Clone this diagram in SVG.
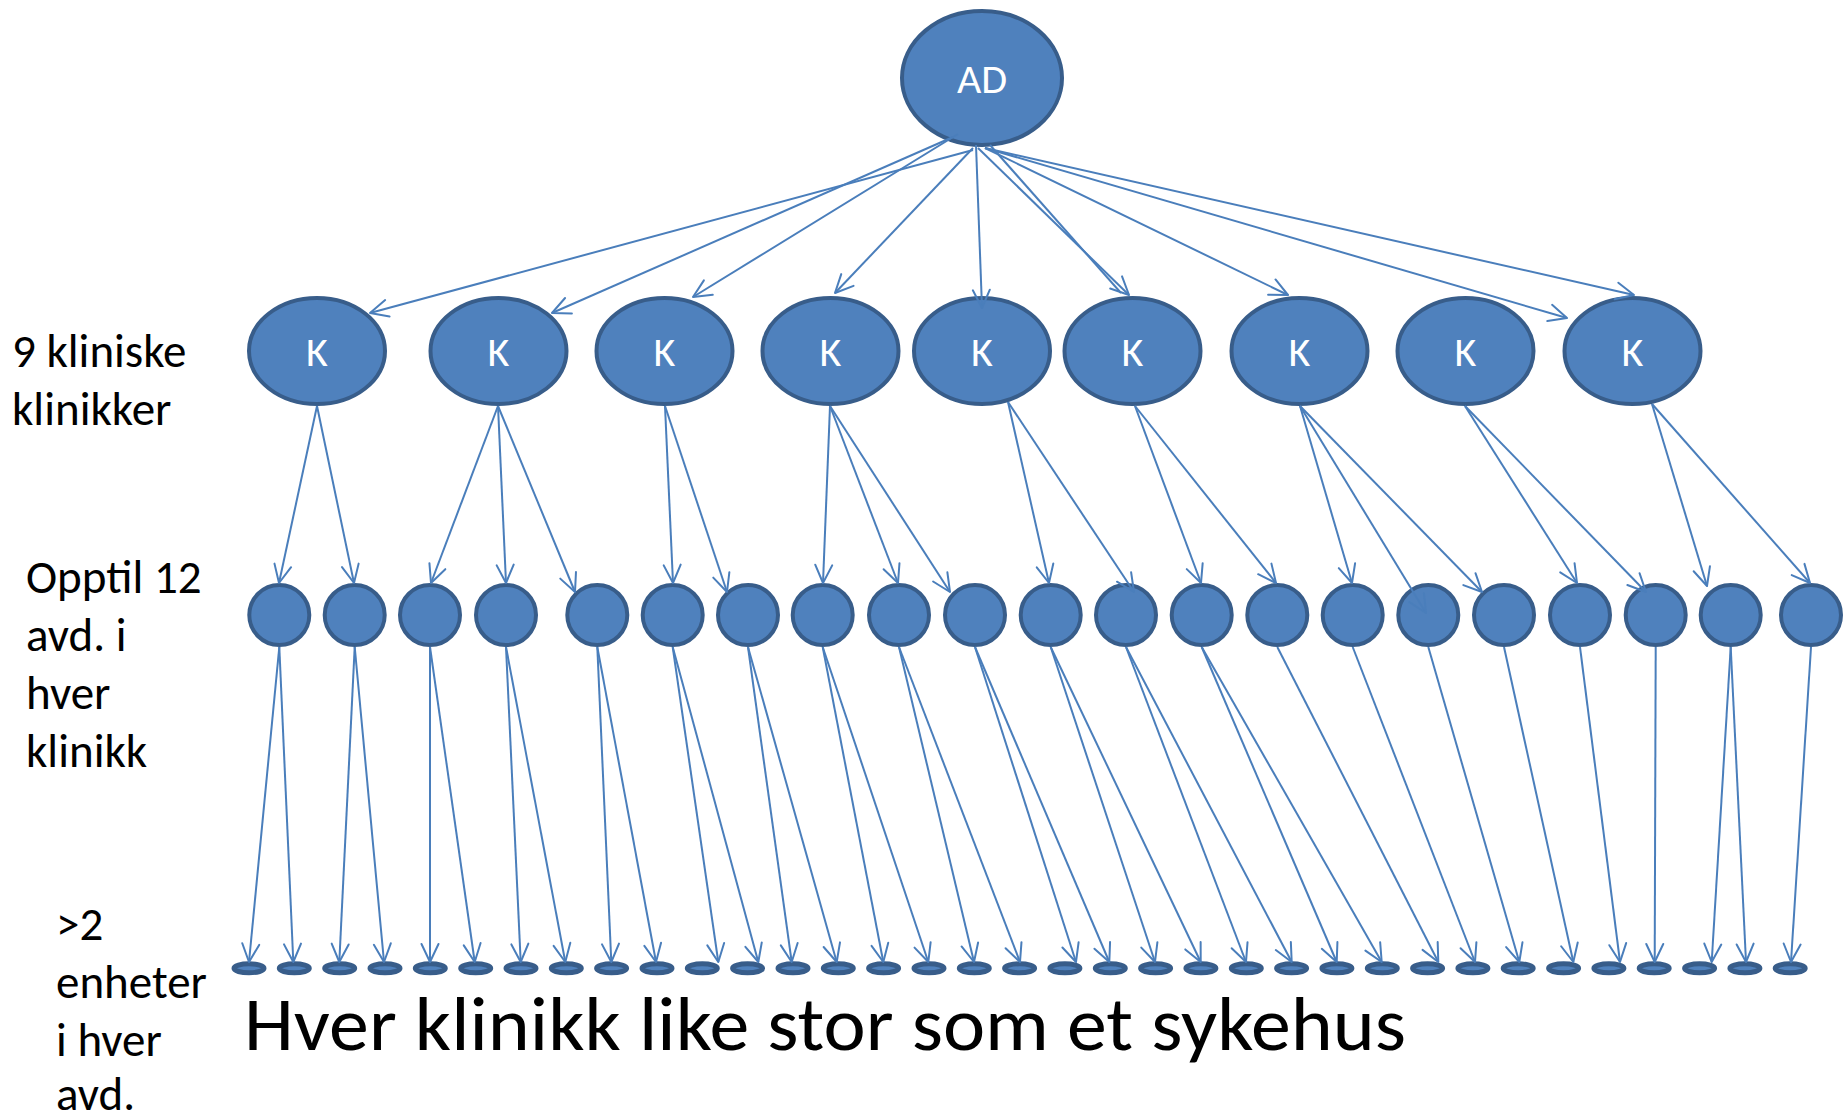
<svg xmlns="http://www.w3.org/2000/svg" width="1844" height="1120" viewBox="0 0 1844 1120">
<style>
.n{fill:#4F81BD;stroke:#385D8A;stroke-width:4}
.u{fill:#4F81BD;stroke:#385D8A;stroke-width:5}
.c line{stroke:#4A7EBB;stroke-width:2;fill:none;marker-end:url(#arr)}
.c line.nm{marker-end:none}
.t{font-family:Carlito,Lato,"Liberation Sans",sans-serif;fill:#fff;font-size:42px;text-anchor:middle}
.l{font-family:Carlito,Lato,"Liberation Sans",sans-serif;fill:#000;font-size:47px}
.big{font-family:Carlito,Lato,"Liberation Sans",sans-serif;fill:#000;font-size:76px}
</style>
<defs>
<marker id="arr" markerUnits="userSpaceOnUse" viewBox="0 0 22 22" refX="20" refY="11" markerWidth="22" markerHeight="22" orient="auto">
<path d="M2,2.5 L20,11 L2,19.5" fill="none" stroke="#4A7EBB" stroke-width="2" stroke-linejoin="round" stroke-linecap="round"/>
</marker>
</defs>
<rect width="1844" height="1120" fill="#fff"/>

<g id="ad"><ellipse class="n" cx="982" cy="78" rx="80" ry="67"/><text class="t" x="982" y="93">AD</text></g>

<g id="k1"><ellipse class="n" cx="317" cy="351" rx="68" ry="53"/><text class="t" x="317" y="366">K</text></g>
<g id="k2"><ellipse class="n" cx="498.5" cy="351" rx="68" ry="53"/><text class="t" x="498.5" y="366">K</text></g>
<g id="k3"><ellipse class="n" cx="664.5" cy="351" rx="68" ry="53"/><text class="t" x="664.5" y="366">K</text></g>
<g id="k4"><ellipse class="n" cx="830.5" cy="351" rx="68" ry="53"/><text class="t" x="830.5" y="366">K</text></g>
<g id="k5"><ellipse class="n" cx="982" cy="351" rx="68" ry="53"/><text class="t" x="982" y="366">K</text></g>
<g id="k6"><ellipse class="n" cx="1132.5" cy="351" rx="68" ry="53"/><text class="t" x="1132.5" y="366">K</text></g>
<g id="k7"><ellipse class="n" cx="1299.5" cy="351" rx="68" ry="53"/><text class="t" x="1299.5" y="366">K</text></g>
<g id="k8"><ellipse class="n" cx="1465.5" cy="351" rx="68" ry="53"/><text class="t" x="1465.5" y="366">K</text></g>
<g id="k9"><ellipse class="n" cx="1632.5" cy="351" rx="68" ry="53"/><text class="t" x="1632.5" y="366">K</text></g>

<g id="d1"><circle class="n" cx="279.3" cy="615" r="30"/></g>
<g id="d2"><circle class="n" cx="354.7" cy="615" r="30"/></g>
<g id="d3"><circle class="n" cx="430" cy="615" r="30"/></g>
<g id="d4"><circle class="n" cx="506" cy="615" r="30"/></g>
<g id="d5"><circle class="n" cx="597.3" cy="615" r="30"/></g>
<g id="d6"><circle class="n" cx="672.7" cy="615" r="30"/></g>
<g id="d7"><circle class="n" cx="748" cy="615" r="30"/></g>
<g id="d8"><circle class="n" cx="822.7" cy="615" r="30"/></g>
<g id="d9"><circle class="n" cx="899" cy="615" r="30"/></g>
<g id="d10"><circle class="n" cx="975" cy="615" r="30"/></g>
<g id="d11"><circle class="n" cx="1050.7" cy="615" r="30"/></g>
<g id="d12"><circle class="n" cx="1126" cy="615" r="30"/></g>
<g id="d13"><circle class="n" cx="1201.7" cy="615" r="30"/></g>
<g id="d14"><circle class="n" cx="1277.3" cy="615" r="30"/></g>
<g id="d15"><circle class="n" cx="1352.7" cy="615" r="30"/></g>
<g id="d16"><circle class="n" cx="1428.3" cy="615" r="30"/></g>
<g id="d17"><circle class="n" cx="1504" cy="615" r="30"/></g>
<g id="d18"><circle class="n" cx="1580" cy="615" r="30"/></g>
<g id="d19"><circle class="n" cx="1655.7" cy="615" r="30"/></g>
<g id="d20"><circle class="n" cx="1730.7" cy="615" r="30"/></g>
<g id="d21"><circle class="n" cx="1811" cy="615" r="30"/></g>

<g id="u1"><ellipse class="u" cx="249" cy="968.3" rx="15" ry="4.5"/></g>
<g id="u2"><ellipse class="u" cx="294.3" cy="968.3" rx="15" ry="4.5"/></g>
<g id="u3"><ellipse class="u" cx="339.7" cy="968.3" rx="15" ry="4.5"/></g>
<g id="u4"><ellipse class="u" cx="385" cy="968.3" rx="15" ry="4.5"/></g>
<g id="u5"><ellipse class="u" cx="430.3" cy="968.3" rx="15" ry="4.5"/></g>
<g id="u6"><ellipse class="u" cx="475.7" cy="968.3" rx="15" ry="4.5"/></g>
<g id="u7"><ellipse class="u" cx="521" cy="968.3" rx="15" ry="4.5"/></g>
<g id="u8"><ellipse class="u" cx="566.3" cy="968.3" rx="15" ry="4.5"/></g>
<g id="u9"><ellipse class="u" cx="611.6" cy="968.3" rx="15" ry="4.5"/></g>
<g id="u10"><ellipse class="u" cx="657" cy="968.3" rx="15" ry="4.5"/></g>
<g id="u11"><ellipse class="u" cx="702.3" cy="968.3" rx="15" ry="4.5"/></g>
<g id="u12"><ellipse class="u" cx="747.6" cy="968.3" rx="15" ry="4.5"/></g>
<g id="u13"><ellipse class="u" cx="793" cy="968.3" rx="15" ry="4.5"/></g>
<g id="u14"><ellipse class="u" cx="838.3" cy="968.3" rx="15" ry="4.5"/></g>
<g id="u15"><ellipse class="u" cx="883.6" cy="968.3" rx="15" ry="4.5"/></g>
<g id="u16"><ellipse class="u" cx="929" cy="968.3" rx="15" ry="4.5"/></g>
<g id="u17"><ellipse class="u" cx="974.3" cy="968.3" rx="15" ry="4.5"/></g>
<g id="u18"><ellipse class="u" cx="1019.6" cy="968.3" rx="15" ry="4.5"/></g>
<g id="u19"><ellipse class="u" cx="1064.9" cy="968.3" rx="15" ry="4.5"/></g>
<g id="u20"><ellipse class="u" cx="1110.3" cy="968.3" rx="15" ry="4.5"/></g>
<g id="u21"><ellipse class="u" cx="1155.6" cy="968.3" rx="15" ry="4.5"/></g>
<g id="u22"><ellipse class="u" cx="1200.9" cy="968.3" rx="15" ry="4.5"/></g>
<g id="u23"><ellipse class="u" cx="1246.3" cy="968.3" rx="15" ry="4.5"/></g>
<g id="u24"><ellipse class="u" cx="1291.6" cy="968.3" rx="15" ry="4.5"/></g>
<g id="u25"><ellipse class="u" cx="1336.9" cy="968.3" rx="15" ry="4.5"/></g>
<g id="u26"><ellipse class="u" cx="1382.3" cy="968.3" rx="15" ry="4.5"/></g>
<g id="u27"><ellipse class="u" cx="1427.6" cy="968.3" rx="15" ry="4.5"/></g>
<g id="u28"><ellipse class="u" cx="1472.9" cy="968.3" rx="15" ry="4.5"/></g>
<g id="u29"><ellipse class="u" cx="1518.2" cy="968.3" rx="15" ry="4.5"/></g>
<g id="u30"><ellipse class="u" cx="1563.6" cy="968.3" rx="15" ry="4.5"/></g>
<g id="u31"><ellipse class="u" cx="1608.9" cy="968.3" rx="15" ry="4.5"/></g>
<g id="u32"><ellipse class="u" cx="1654.2" cy="968.3" rx="15" ry="4.5"/></g>
<g id="u33"><ellipse class="u" cx="1699.6" cy="968.3" rx="15" ry="4.5"/></g>
<g id="u34"><ellipse class="u" cx="1744.9" cy="968.3" rx="15" ry="4.5"/></g>
<g id="u35"><ellipse class="u" cx="1790.2" cy="968.3" rx="15" ry="4.5"/></g>

<g id="connectors" class="c">
<line x1="973" y1="150" x2="370" y2="313"/>
<line x1="953" y1="137" x2="552" y2="313"/>
<line x1="958" y1="134" x2="693" y2="297"/>
<line x1="973" y1="148" x2="835" y2="293"/>
<line x1="976" y1="145" x2="982" y2="308"/>
<line x1="978" y1="148" x2="1129" y2="295"/>
<line class="nm" x1="990" y1="145" x2="1121" y2="293"/>
<line x1="985" y1="148" x2="1288" y2="295"/>
<line x1="985" y1="148" x2="1567" y2="318"/>
<line x1="985" y1="148" x2="1634" y2="295"/>

<line x1="317" y1="406" x2="279" y2="583"/>
<line x1="317" y1="406" x2="354" y2="583"/>
<line x1="498" y1="406" x2="431" y2="583"/>
<line x1="498" y1="406" x2="506" y2="583"/>
<line x1="498" y1="406" x2="575" y2="592"/>
<line x1="665" y1="406" x2="673" y2="583"/>
<line x1="665" y1="406" x2="727" y2="592"/>
<line x1="830" y1="406" x2="823" y2="583"/>
<line x1="830" y1="406" x2="898" y2="583"/>
<line x1="830" y1="406" x2="950" y2="592"/>
<line x1="1008" y1="402" x2="1049" y2="583"/>
<line x1="1008" y1="402" x2="1134" y2="592"/>
<line x1="1135" y1="406" x2="1201" y2="583"/>
<line x1="1135" y1="406" x2="1276" y2="583"/>
<line x1="1300" y1="406" x2="1352" y2="583"/>
<line x1="1300" y1="406" x2="1426" y2="613"/>
<line x1="1300" y1="406" x2="1482" y2="592"/>
<line x1="1465" y1="406" x2="1577" y2="583"/>
<line x1="1465" y1="406" x2="1646" y2="592"/>
<line x1="1652" y1="404" x2="1707" y2="586"/>
<line x1="1652" y1="404" x2="1810" y2="583"/>

<line x1="279.3" y1="647" x2="249" y2="962"/>
<line x1="279.3" y1="647" x2="293.3" y2="962"/>
<line x1="354.7" y1="647" x2="339.3" y2="962"/>
<line x1="354.7" y1="647" x2="384" y2="962"/>
<line x1="430" y1="647" x2="430" y2="962"/>
<line x1="430" y1="647" x2="474.7" y2="962"/>
<line x1="506" y1="647" x2="520.7" y2="962"/>
<line x1="506" y1="647" x2="565.3" y2="962"/>
<line x1="597.3" y1="647" x2="611.3" y2="962"/>
<line x1="597.3" y1="647" x2="656" y2="962"/>
<line x1="672.7" y1="647" x2="718.3" y2="962"/>
<line x1="672.7" y1="647" x2="758.3" y2="962"/>
<line x1="748" y1="647" x2="791.7" y2="962"/>
<line x1="748" y1="647" x2="836.7" y2="962"/>
<line x1="822.7" y1="647" x2="883.3" y2="962"/>
<line x1="822.7" y1="647" x2="928.3" y2="962"/>
<line x1="899" y1="647" x2="974" y2="962"/>
<line x1="899" y1="647" x2="1020" y2="962"/>
<line x1="975" y1="647" x2="1076" y2="962"/>
<line x1="975" y1="647" x2="1109.3" y2="962"/>
<line x1="1050.7" y1="647" x2="1155" y2="962"/>
<line x1="1050.7" y1="647" x2="1200.7" y2="962"/>
<line x1="1126" y1="647" x2="1246" y2="962"/>
<line x1="1126" y1="647" x2="1291.7" y2="962"/>
<line x1="1201.7" y1="647" x2="1336.7" y2="962"/>
<line x1="1201.7" y1="647" x2="1381.7" y2="962"/>
<line x1="1277.3" y1="647" x2="1438.3" y2="962"/>
<line x1="1352.7" y1="647" x2="1475" y2="962"/>
<line x1="1428.3" y1="647" x2="1519.3" y2="962"/>
<line x1="1504" y1="647" x2="1573.3" y2="962"/>
<line x1="1580" y1="647" x2="1620" y2="962"/>
<line x1="1655.7" y1="647" x2="1654.7" y2="962"/>
<line x1="1730.7" y1="647" x2="1711.7" y2="962"/>
<line x1="1730.7" y1="647" x2="1746" y2="962"/>
<line x1="1811" y1="647" x2="1791" y2="962"/>
</g>

<g id="labels">
<text class="l" x="12" y="367">9 kliniske</text>
<text class="l" x="12" y="425">klinikker</text>
<text class="l" x="26" y="593">Opptil 12</text>
<text class="l" x="26" y="651">avd. i</text>
<text class="l" x="26" y="709">hver</text>
<text class="l" x="26" y="767">klinikk</text>
<text class="l" x="56" y="940">&gt;2</text>
<text class="l" x="56" y="998">enheter</text>
<text class="l" x="56" y="1056">i hver</text>
<text class="l" x="56" y="1110">avd.</text>
<text class="big" x="244" y="1050" textLength="1162" lengthAdjust="spacingAndGlyphs">Hver klinikk like stor som et sykehus</text>
</g>
</svg>
